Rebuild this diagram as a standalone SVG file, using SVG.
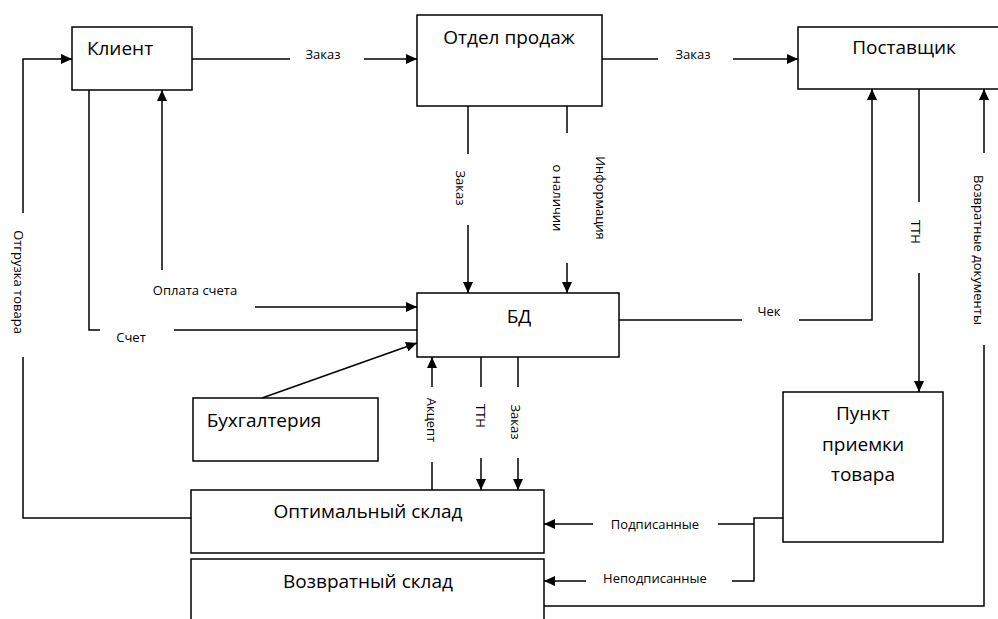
<svg xmlns="http://www.w3.org/2000/svg" width="998" height="619" viewBox="0 0 998 619">
<style>
.box{fill:#fff;stroke:#000;stroke-width:1.5}
.big{font-family:"Open Sans","Liberation Sans",sans-serif;font-size:19px;fill:#000;text-anchor:middle}
.sm{font-family:"Open Sans","Liberation Sans",sans-serif;font-size:13px;fill:#000;text-anchor:middle}
.ln{fill:none;stroke:#000;stroke-width:1.5}
.ar{marker-end:url(#ah)}
</style>
<defs>
<marker id="ah" markerUnits="userSpaceOnUse" markerWidth="12" markerHeight="10" refX="11" refY="5" orient="auto">
<path d="M0,0 L11,5 L0,10 z" fill="#000"/>
</marker>
</defs>
<rect width="998" height="619" fill="#fff"/>

<g id="klient"><rect class="box" x="72" y="27" width="120" height="63"/><text class="big" x="120" y="55">Клиент</text></g>
<g id="otdel"><rect class="box" x="417" y="15" width="185" height="91"/><text class="big" x="509" y="44">Отдел продаж</text></g>
<g id="postavshik"><rect class="box" x="798" y="27" width="205" height="62"/><text class="big" x="904" y="54">Поставщик</text></g>
<g id="bd"><rect class="box" x="417" y="293" width="202" height="64"/><text class="big" x="519" y="323">БД</text></g>
<g id="buh"><rect class="box" x="193" y="398" width="185" height="63"/><text class="big" x="264" y="427">Бухгалтерия</text></g>
<g id="punkt"><rect class="box" x="783" y="392" width="160" height="150"/><text class="big" x="863" y="420">Пункт</text><text class="big" x="863" y="451">приемки</text><text class="big" x="863" y="481">товара</text></g>
<g id="optsklad"><rect class="box" x="191" y="490" width="353" height="63"/><text class="big" x="368" y="518">Оптимальный склад</text></g>
<g id="vozsklad"><rect class="box" x="191" y="559" width="353" height="70"/><text class="big" x="368" y="588">Возвратный склад</text></g>

<g id="connectors">
<path class="ln" d="M192,59 H290"/><path class="ln ar" d="M364,59 H417"/>
<text class="sm" x="323" y="59">Заказ</text>
<path class="ln" d="M602,59 H658"/><path class="ln ar" d="M733,59 H798"/>
<text class="sm" x="693" y="59">Заказ</text>
<path class="ln" d="M468,106 V154"/><path class="ln ar" d="M468,225 V293"/>
<text class="sm" transform="translate(460,188) rotate(90)" y="4">Заказ</text>
<path class="ln" d="M567,106 V133"/><path class="ln ar" d="M567,263 V293"/>
<text class="sm" transform="translate(557,198) rotate(90)" y="4">о наличии</text>
<text class="sm" transform="translate(600,198) rotate(90)" y="4">Информация</text>
<path class="ln" d="M619,320 H742"/><path class="ln ar" d="M799,320 H872 V89"/>
<text class="sm" x="769" y="316">Чек</text>
<path class="ln" d="M919,89 V202"/><path class="ln ar" d="M919,273 V392"/>
<text class="sm" transform="translate(915,232) rotate(90)" y="4">ТТН</text>
<path class="ln" d="M544,606 H984 V345"/><path class="ln ar" d="M984,153 V89"/>
<text class="sm" transform="translate(978,250) rotate(90)" y="4">Возвратные документы</text>
<path class="ln" d="M191,518 H23 V357"/><path class="ln ar" d="M23,213 V59 H72"/>
<text class="sm" transform="translate(18,282) rotate(90)" y="4">Отгрузка товара</text>
<path class="ln ar" d="M255,307 H417"/><path class="ln ar" d="M162,270 V90"/>
<text class="sm" x="195" y="295">Оплата счета</text>
<path class="ln" d="M417,330 H174"/><path class="ln" d="M100,330 H89 V90"/>
<text class="sm" x="131" y="342">Счет</text>
<path class="ln ar" d="M262,398 L417,343"/>
<path class="ln" d="M432,490 V462"/><path class="ln ar" d="M432,387 V357"/>
<text class="sm" transform="translate(431,420) rotate(90)" y="4">Акцепт</text>
<path class="ln" d="M481,357 V387"/><path class="ln ar" d="M481,458 V490"/>
<text class="sm" transform="translate(480,416) rotate(90)" y="4">ТТН</text>
<path class="ln" d="M518,357 V387"/><path class="ln ar" d="M518,458 V490"/>
<text class="sm" transform="translate(515,422) rotate(90)" y="4">Заказ</text>
<path class="ln" d="M783,518 H754 V581 H732"/><path class="ln" d="M754,524 H718"/><path class="ln ar" d="M593,524 H544"/>
<text class="sm" x="655" y="529">Подписанные</text>
<path class="ln ar" d="M586,581 H544"/>
<text class="sm" x="655" y="583">Неподписанные</text>
</g>
</svg>
